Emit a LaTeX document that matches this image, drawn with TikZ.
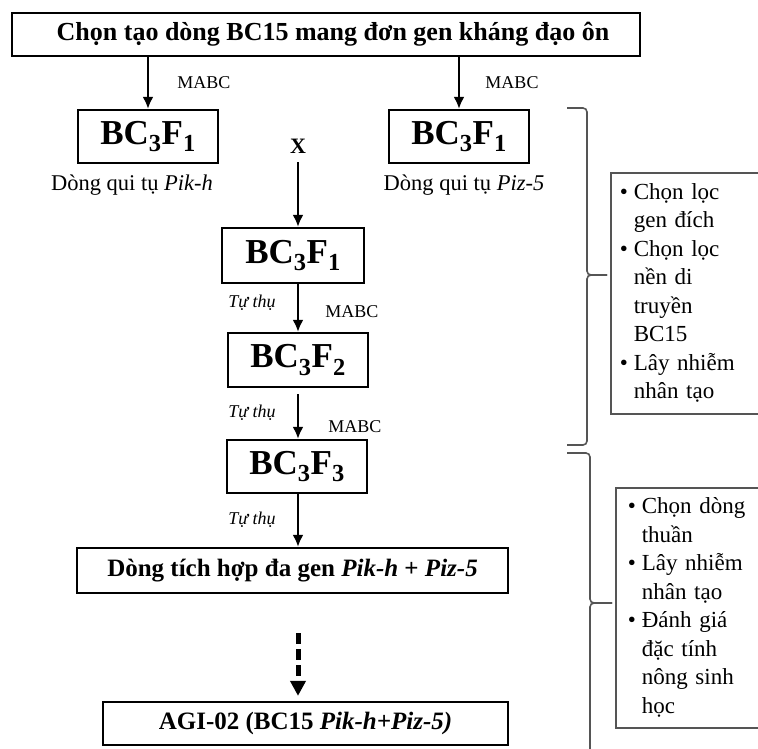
\documentclass[tikz,border=0pt]{standalone}
\usepackage{fontspec}
\setmainfont{Liberation Serif}
\usetikzlibrary{arrows.meta}
\definecolor{bracegray}{RGB}{85,85,85}
\begin{document}
\begin{tikzpicture}[x=1pt,y=-1pt,
  box/.style={draw=black, line width=2.3pt, inner sep=0pt},
  bcbox/.style={box, minimum width=140pt, minimum height=53pt, font=\fontsize{35}{38}\selectfont\bfseries},
  wbox/.style={box, minimum width=431pt, minimum height=45pt, font=\fontsize{25}{28}\selectfont\bfseries},
  lbl/.style={inner sep=1pt, font=\fontsize{18}{20}\selectfont},
  tlbl/.style={inner sep=1pt, font=\fontsize{18}{20}\selectfont\itshape},
  caplbl/.style={inner sep=1pt, font=\fontsize{22.5}{25}\selectfont},
  arr/.style={line width=2.7pt, -{Latex[length=12pt,width=11pt]}},
  dasharr/.style={line width=5pt, dash pattern=on 11pt off 5pt, -{Triangle[length=15pt,width=15pt]}},
  brace/.style={draw=bracegray, line width=1.6pt, rounded corners=4pt},
  infobox/.style={draw=bracegray, line width=1.5pt, anchor=north west, align=left, inner ysep=0pt, font=\fontsize{23}{28.5}\selectfont}
]
\useasboundingbox (0,0) rectangle (758,748);

% top box
\node[box, minimum width=628pt, minimum height=43pt, font=\fontsize{26}{30}\selectfont\bfseries] (top) at (326,34.5) {\hspace*{14pt}Chọn tạo dòng BC15 mang đơn gen kháng đạo ôn};

% two parent lines
\node[bcbox] (l1) at (148,136.5) {BC\textsubscript{3}F\textsubscript{1}};
\node[bcbox] (r1) at (459,136.5) {BC\textsubscript{3}F\textsubscript{1}};
\draw[arr] (top.south -| l1.north) -- (l1.north);
\draw[arr] (top.south -| r1.north) -- (r1.north);
\node[lbl] (mabc1) at (204,83) {MABC};
\node[lbl] (mabc2) at (512,83) {MABC};
\node[caplbl] (capl) at (132,185) {Dòng qui tụ \textit{Pik-h}};
\node[caplbl] (capr) at (464,185) {Dòng qui tụ \textit{Piz-5}};
\node[inner sep=1pt, font=\fontsize{22}{24}\selectfont\bfseries] (cross) at (298,146) {X};

% middle column
\node[bcbox, minimum width=142pt, minimum height=55pt] (m1) at (293,255.5) {BC\textsubscript{3}F\textsubscript{1}};
\node[bcbox, minimum height=54pt] (m2) at (298,360) {BC\textsubscript{3}F\textsubscript{2}};
\node[bcbox] (m3) at (297,466.5) {BC\textsubscript{3}F\textsubscript{3}};
\node[wbox] (d) at (292.5,570.5) {Dòng tích hợp đa gen \textit{Pik-h} + \textit{Piz-5}};
\node[wbox, minimum width=405pt, minimum height=43pt] (agi) at (305.5,723.5) {AGI-02 (BC15 \textit{Pik-h+Piz-5)}};

\draw[arr, shorten <=8pt] (cross.south) -- (cross.south |- m1.north);
\draw[arr] (m1.south -| cross.south) -- (m2.north -| cross.south);
\draw[arr, shorten <=6pt] (m2.south -| cross.south) -- (m3.north -| cross.south);
\draw[arr] (m3.south -| cross.south) -- (d.north -| cross.south);
\draw[dasharr, shorten <=39pt, shorten >=5pt] (d.south -| cross.south) -- (agi.north -| cross.south);

\node[tlbl] (t1) at (252,303) {Tự thụ};
\node[lbl] (mabc3) at (352,312) {MABC};
\node[tlbl] (t2) at (252,413) {Tự thụ};
\node[lbl] (mabc4) at (355,427) {MABC};
\node[tlbl] (t3) at (252,520) {Tự thụ};

% braces
\draw[brace] (567,108) -- (587,108) -- (587,275) -- (607,275);
\draw[brace] (607,275) -- (587,275) -- (587,445) -- (567,445);
\draw[brace] (567,453) -- (590,453) -- (590,603) -- (612,603);
\draw[brace] (612,603) -- (590,603) -- (590,770);

% info boxes
\node[infobox, inner xsep=9pt, text width=150pt, minimum height=241pt] (info1) at (610,172) {%
\begin{tabular}{@{}l@{\hspace{6pt}}l@{}}
•&Chọn lọc\\
&gen đích\\
•&Chọn lọc\\
&nền di\\
&truyền\\
&BC15\\
•&Lây nhiễm\\
&nhân tạo
\end{tabular}};
\node[infobox, inner xsep=12pt, text width=150pt, minimum height=240pt] (info2) at (615,487) {%
\begin{tabular}{@{}l@{\hspace{6pt}}l@{}}
•&Chọn dòng\\
&thuần\\
•&Lây nhiễm\\
&nhân tạo\\
•&Đánh giá\\
&đặc tính\\
&nông sinh\\
&học
\end{tabular}};
\end{tikzpicture}
\end{document}
